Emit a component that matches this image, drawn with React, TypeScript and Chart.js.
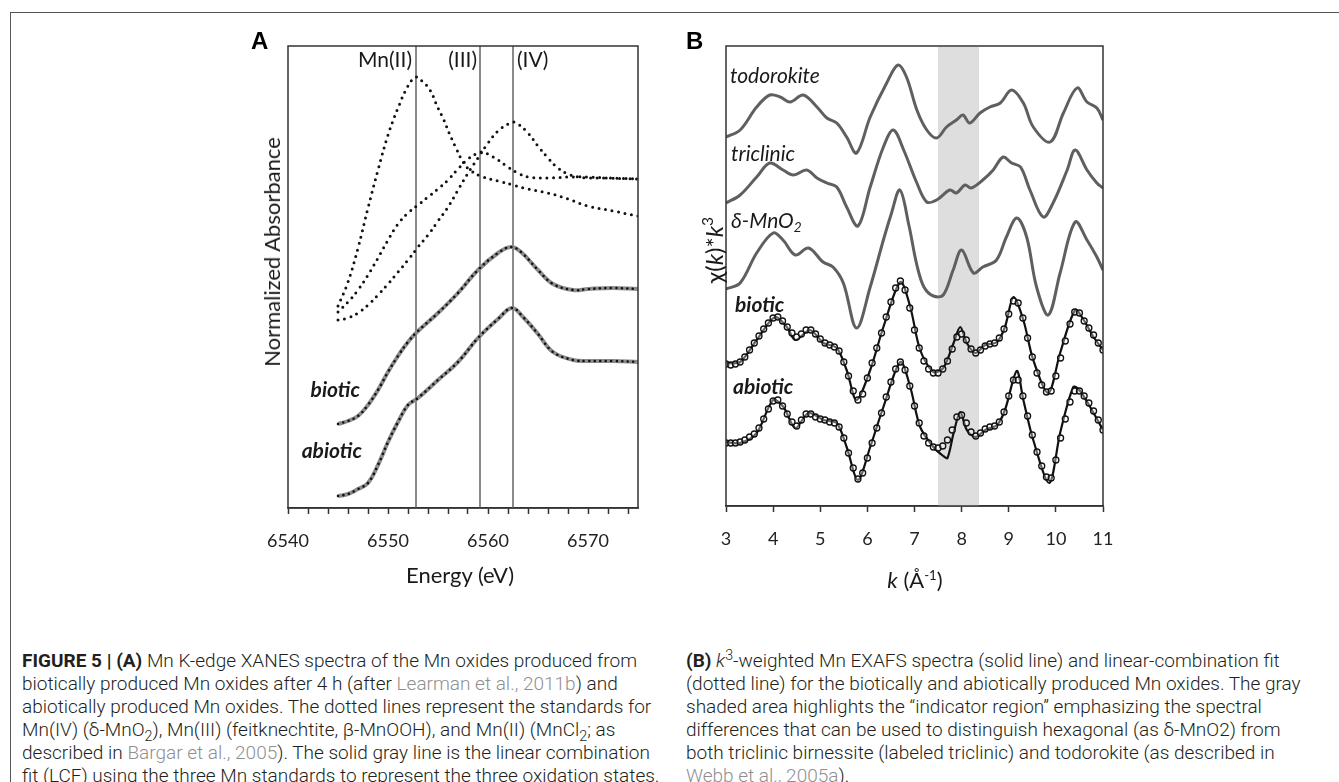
import React, { useEffect, useRef } from 'react';
import { Chart, registerables } from 'chart.js';
Chart.register(...registerables);

// ---------- Panel A : Mn K-edge XANES ----------
const energyTicks = [6540, 6542, 6544, 6546, 6548, 6550, 6552, 6554, 6556, 6558, 6560, 6562, 6564, 6566, 6568, 6570, 6572, 6574];
const energyLabels = [6540, 6550, 6560, 6570];
const oxidationLines = [6552.8, 6559.2, 6562.5];

const E_MN2 = [6545, 6546, 6547, 6548, 6549, 6550, 6551, 6552, 6552.8, 6553.5, 6554.2, 6555, 6555.5, 6556.2, 6556.9, 6557.5, 6558.2, 6559.5, 6561, 6562.5, 6564, 6566, 6568, 6570, 6572.5, 6575];
const A_MN2 = [2.02, 2.26, 2.6, 3.0, 3.38, 3.73, 4.0, 4.22, 4.31, 4.26, 4.18, 4.0, 3.9, 3.73, 3.58, 3.46, 3.38, 3.31, 3.27, 3.23, 3.19, 3.15, 3.09, 3.02, 2.97, 2.92];

const E_MN3 = [6545, 6546, 6547, 6548, 6549, 6550, 6551, 6552, 6553, 6554, 6555, 6556, 6557, 6558, 6559, 6559.5, 6560, 6561, 6562, 6563, 6564, 6566, 6568, 6570, 6572, 6575];
const A_MN3 = [1.96, 2.06, 2.18, 2.33, 2.5, 2.68, 2.84, 2.95, 3.03, 3.11, 3.19, 3.28, 3.39, 3.49, 3.55, 3.56, 3.54, 3.48, 3.41, 3.35, 3.31, 3.3, 3.31, 3.31, 3.3, 3.29];

const E_MN4 = [6545, 6546, 6547, 6548, 6549, 6550, 6551, 6552, 6553, 6554, 6555, 6556, 6557, 6558, 6559, 6560, 6561, 6562, 6562.5, 6563, 6564, 6565, 6566, 6567, 6568, 6569, 6570, 6572, 6575];
const A_MN4 = [1.88, 1.9, 1.95, 2.03, 2.13, 2.24, 2.36, 2.48, 2.61, 2.73, 2.87, 3.01, 3.18, 3.35, 3.5, 3.65, 3.77, 3.84, 3.86, 3.84, 3.75, 3.62, 3.5, 3.4, 3.34, 3.31, 3.3, 3.3, 3.29];

const E_BIO = [6545, 6546, 6547, 6548, 6549, 6550, 6551, 6552, 6553, 6555, 6557, 6559, 6561, 6562.3, 6563.3, 6565, 6566.5, 6568.5, 6570, 6572.5, 6575];
const A_BIO = [0.84, 0.87, 0.92, 1.03, 1.18, 1.36, 1.52, 1.66, 1.77, 1.95, 2.15, 2.38, 2.55, 2.61, 2.56, 2.38, 2.24, 2.18, 2.19, 2.2, 2.19];

const E_ABIO = [6545, 6546, 6547, 6548, 6549, 6550, 6551, 6552, 6553, 6555, 6557, 6559, 6561, 6562.4, 6563.5, 6565, 6566.5, 6568.5, 6570, 6572.5, 6575];
const A_ABIO = [0.12, 0.14, 0.19, 0.25, 0.43, 0.66, 0.86, 1.03, 1.1, 1.28, 1.46, 1.7, 1.89, 2.0, 1.91, 1.74, 1.56, 1.48, 1.47, 1.47, 1.46];

// ---------- Panel B : k3-weighted EXAFS ----------
const kTicks = [3, 4, 5, 6, 7, 8, 9, 10, 11];
const indicatorRegion = [7.5, 8.37];

const K_TODO = [3.0, 3.3, 3.65, 3.93, 4.15, 4.36, 4.64, 4.93, 5.14, 5.35, 5.56, 5.77, 6.06, 6.41, 6.65, 6.83, 7.05, 7.26, 7.47, 7.68, 7.89, 8.03, 8.17, 8.39, 8.6, 8.82, 9.06, 9.31, 9.52, 9.88, 10.16, 10.45, 10.66, 10.87, 11.0];
const V_TODO = [36.9, 37.6, 39.9, 41.1, 40.9, 40.4, 41.1, 39.9, 38.8, 38.3, 36.9, 35.3, 38.9, 42.3, 44.1, 42.9, 39.6, 37.6, 36.8, 37.9, 38.6, 39.1, 38.3, 39.3, 39.9, 40.3, 41.6, 40.3, 37.9, 36.4, 39.3, 41.8, 40.4, 39.8, 38.6];

const K_TRI = [3.0, 3.3, 3.65, 3.93, 4.21, 4.43, 4.71, 4.93, 5.14, 5.35, 5.56, 5.8, 6.06, 6.34, 6.55, 6.77, 7.05, 7.26, 7.47, 7.75, 7.89, 8.07, 8.2, 8.45, 8.67, 8.88, 9.06, 9.25, 9.45, 9.73, 9.94, 10.24, 10.41, 10.66, 10.87, 11.0];
const V_TRI = [30.3, 31.1, 32.9, 34.3, 33.6, 33.1, 33.6, 32.8, 32.3, 31.9, 29.9, 28.0, 31.9, 35.9, 37.6, 35.6, 32.3, 30.4, 30.6, 31.6, 31.3, 32.1, 31.8, 32.6, 33.6, 34.9, 34.3, 33.9, 31.6, 28.9, 30.3, 33.6, 35.6, 33.6, 32.3, 31.8];

const K_DMN = [3.0, 3.3, 3.65, 4.0, 4.21, 4.47, 4.75, 5.06, 5.27, 5.49, 5.77, 6.06, 6.34, 6.5, 6.69, 6.88, 7.05, 7.2, 7.4, 7.61, 7.82, 8.0, 8.25, 8.45, 8.74, 8.95, 9.17, 9.38, 9.59, 9.84, 10.09, 10.41, 10.66, 10.87, 11.0];
const V_DMN = [21.7, 22.3, 25.3, 27.3, 26.6, 25.1, 25.8, 24.4, 23.9, 22.3, 17.8, 21.9, 26.6, 29.1, 31.6, 28.1, 24.1, 21.9, 21.0, 21.1, 23.6, 25.6, 23.3, 23.9, 24.6, 26.9, 28.8, 26.9, 21.9, 19.1, 23.3, 28.4, 26.6, 24.9, 23.6];

const K_BIO = [3.0, 3.3, 3.65, 4.04, 4.29, 4.47, 4.78, 5.07, 5.35, 5.56, 5.77, 6.06, 6.34, 6.7, 6.91, 7.12, 7.4, 7.61, 7.83, 7.97, 8.11, 8.29, 8.5, 8.75, 8.92, 9.1, 9.31, 9.52, 9.84, 10.09, 10.41, 10.59, 10.8, 11.0];
const V_BIO = [14.3, 14.4, 16.6, 18.9, 17.9, 16.6, 17.6, 16.3, 15.8, 13.6, 10.6, 13.6, 17.9, 22.4, 19.9, 15.6, 13.4, 13.8, 16.3, 17.9, 16.3, 15.3, 16.1, 16.4, 17.9, 20.9, 18.6, 14.6, 11.3, 15.3, 19.6, 18.6, 16.9, 15.6];

const K_ABIO = [3.0, 3.3, 3.65, 4.0, 4.22, 4.47, 4.75, 5.07, 5.35, 5.56, 5.8, 6.06, 6.34, 6.7, 6.91, 7.12, 7.4, 7.61, 7.7, 7.83, 7.97, 8.11, 8.29, 8.5, 8.75, 8.92, 9.17, 9.31, 9.52, 9.86, 10.09, 10.37, 10.5, 10.8, 11.0];
const V_ABIO = [6.4, 6.3, 7.3, 10.6, 9.9, 7.8, 9.3, 8.6, 8.3, 5.9, 2.6, 5.9, 9.9, 14.4, 11.9, 7.9, 5.9, 5.0, 4.8, 7.3, 9.4, 7.6, 6.9, 7.6, 8.1, 9.6, 13.5, 10.6, 6.6, 2.3, 7.3, 11.9, 11.6, 9.3, 7.6];

const K_FIT = [
  3.0, 3.1, 3.2, 3.3, 3.4, 3.5, 3.6, 3.7, 3.8, 3.9,
  4.0, 4.1, 4.2, 4.3, 4.4, 4.5, 4.6, 4.7, 4.8, 4.9,
  5.0, 5.1, 5.2, 5.3, 5.4, 5.5, 5.6, 5.7, 5.8, 5.9,
  6.0, 6.1, 6.2, 6.3, 6.4, 6.5, 6.6, 6.7, 6.8, 6.9,
  7.0, 7.1, 7.2, 7.3, 7.4, 7.5, 7.6, 7.7, 7.8, 7.9,
  8.0, 8.1, 8.2, 8.3, 8.4, 8.5, 8.6, 8.7, 8.8, 8.9,
  9.0, 9.1, 9.2, 9.3, 9.4, 9.5, 9.6, 9.7, 9.8, 9.9,
  10.0, 10.1, 10.2, 10.3, 10.4, 10.5, 10.6, 10.7, 10.8, 10.9,
  11.0,
];
const FIT_BIO = [
  14.2, 14.1, 14.2, 14.4, 14.9, 15.6, 16.3, 17.0, 17.7, 18.3,
  18.8, 18.9, 18.5, 17.9, 17.3, 16.9, 17.2, 17.6, 17.6, 17.2,
  16.7, 16.3, 16.1, 15.9, 15.5, 14.4, 13.0, 11.5, 10.6, 11.2,
  12.8, 14.3, 15.8, 17.3, 18.9, 20.4, 21.8, 22.5, 21.6, 19.8,
  17.6, 15.8, 14.5, 13.7, 13.3, 13.3, 13.7, 14.5, 15.7, 16.9,
  17.2, 16.6, 15.7, 15.3, 15.6, 16.0, 16.2, 16.3, 16.8, 17.7,
  19.2, 20.5, 20.3, 18.8, 16.8, 14.9, 13.3, 12.1, 11.4, 11.5,
  13.0, 14.8, 16.5, 18.2, 19.4, 19.3, 18.5, 17.8, 17.1, 16.3,
  15.6,
];
const FIT_ABIO = [
  6.3, 6.3, 6.3, 6.4, 6.6, 6.9, 7.2, 7.8, 8.7, 9.7,
  10.5, 10.6, 10.0, 9.2, 8.4, 8.0, 8.6, 9.2, 9.2, 8.9,
  8.7, 8.6, 8.4, 8.3, 7.9, 6.8, 5.3, 3.8, 2.7, 3.3,
  4.8, 6.3, 7.8, 9.3, 10.9, 12.4, 13.7, 14.4, 13.6, 12.0,
  10.0, 8.3, 7.0, 6.3, 5.9, 5.8, 6.0, 6.6, 7.6, 8.9,
  9.1, 8.3, 7.4, 7.0, 7.3, 7.7, 7.9, 8.0, 8.4, 9.4,
  11.0, 12.6, 12.6, 11.0, 9.0, 7.1, 5.4, 4.0, 2.9, 2.8,
  4.6, 6.8, 8.7, 10.4, 11.5, 11.5, 11.0, 10.3, 9.5, 8.6,
  7.6,
];

const zip = (xs: number[], ys: number[]) => xs.map((x, i) => ({ x, y: ys[i] }));

const FONT = "Lato, 'Open Sans', sans-serif";
const CAP_FONT = "Roboto, 'Liberation Sans', sans-serif";
const AXIS = '#333';

const boxPlugin = {
  id: 'box',
  afterDraw(chart: any) {
    const { ctx, chartArea: a } = chart;
    ctx.save();
    ctx.strokeStyle = AXIS;
    ctx.lineWidth = 1.5;
    ctx.strokeRect(a.left, a.top, a.right - a.left, a.bottom - a.top);
    ctx.restore();
  },
};

const bandPlugin = {
  id: 'band',
  beforeDatasetsDraw(chart: any) {
    const { ctx, chartArea: a, scales } = chart;
    const x0 = scales.x.getPixelForValue(indicatorRegion[0]);
    const x1 = scales.x.getPixelForValue(indicatorRegion[1]);
    ctx.save();
    ctx.fillStyle = '#dedede';
    ctx.fillRect(x0, a.top + 1, x1 - x0, a.bottom - a.top - 1);
    ctx.restore();
  },
};

function xAxis(min: number, max: number, ticks: number[], labels: number[] | null, height: number) {
  return {
    type: 'linear',
    min,
    max,
    afterBuildTicks: (s: any) => {
      s.ticks = ticks.map((v) => ({ value: v }));
    },
    afterFit: (s: any) => {
      s.height = height;
    },
    grid: { drawOnChartArea: false, drawTicks: true, tickLength: 6, color: AXIS, tickColor: AXIS, tickWidth: 1.5 },
    border: { display: true, color: AXIS, width: 1.5 },
    ticks: {
      autoSkip: false,
      maxRotation: 0,
      padding: 16,
      color: '#222',
      font: { family: FONT, size: 18 },
      callback: (v: any) => (labels === null || labels.includes(v) ? String(v) : ''),
    },
  };
}

// canvas geometry (px on the page)
const A_LEFT = 220, A_TOP = 20, A_W = 460, A_H = 590;
const B_LEFT = 680, B_TOP = 20, B_W = 470, B_H = 590;

function PanelA() {
  const ref = useRef<HTMLCanvasElement>(null);
  useEffect(() => {
    const dotted = (data: any) => ({
      data,
      borderColor: '#111',
      borderWidth: 3,
      borderDash: [0, 6.6],
      borderCapStyle: 'round',
      pointRadius: 0,
      tension: 0.4,
      fill: false,
    });
    const vlines = oxidationLines.map((e) => ({
      data: [{ x: e, y: 0 }, { x: e, y: 4.62 }],
      borderColor: '#8a8a8a',
      borderWidth: 2,
      pointRadius: 0,
      fill: false,
    }));
    // Chart.js paints the first dataset last (on top)
    const chart = new Chart(ref.current!, {
      type: 'line',
      data: {
        datasets: [
          { ...dotted(zip(E_BIO, A_BIO)), borderWidth: 2.6, borderDash: [0, 5.5] },
          { ...dotted(zip(E_ABIO, A_ABIO)), borderWidth: 2.6, borderDash: [0, 5.5] },
          { data: zip(E_BIO, A_BIO), borderColor: '#8c8c8c', borderWidth: 4, pointRadius: 0, tension: 0.4, fill: false },
          { data: zip(E_ABIO, A_ABIO), borderColor: '#8c8c8c', borderWidth: 4, pointRadius: 0, tension: 0.4, fill: false },
          dotted(zip(E_MN2, A_MN2)),
          dotted(zip(E_MN3, A_MN3)),
          dotted(zip(E_MN4, A_MN4)),
          ...vlines,
        ] as any,
      },
      options: {
        animation: false,
        responsive: false,
        events: [],
        layout: { padding: { left: 288 - A_LEFT, top: 46 - A_TOP, right: A_LEFT + A_W - 638, bottom: 0 } },
        plugins: { legend: { display: false }, tooltip: { enabled: false } },
        scales: {
          x: xAxis(6540, 6575, energyTicks, energyLabels, A_TOP + A_H - 508) as any,
          y: { type: 'linear', min: 0, max: 4.62, display: false },
        },
      },
      plugins: [boxPlugin],
    });
    return () => chart.destroy();
  }, []);
  return <canvas ref={ref} width={A_W} height={A_H} style={{ position: 'absolute', left: A_LEFT, top: A_TOP, width: A_W, height: A_H }} />;
}

function PanelB() {
  const ref = useRef<HTMLCanvasElement>(null);
  useEffect(() => {
    const gray = (data: any) => ({ data, borderColor: '#5f5f5f', borderWidth: 3, pointRadius: 0, tension: 0.35, fill: false });
    const black = (data: any) => ({ data, borderColor: '#111', borderWidth: 2.2, pointRadius: 0, tension: 0.3, fill: false });
    const circles = (data: any) => ({
      data,
      showLine: false,
      pointRadius: 3,
      pointBorderWidth: 1.3,
      pointBorderColor: '#111',
      pointBackgroundColor: 'rgba(255,255,255,0.35)',
      fill: false,
    });
    // first dataset is painted on top
    const chart = new Chart(ref.current!, {
      type: 'line',
      data: {
        datasets: [
          circles(zip(K_FIT, FIT_BIO)),
          circles(zip(K_FIT, FIT_ABIO)),
          black(zip(K_BIO, V_BIO)),
          black(zip(K_ABIO, V_ABIO)),
          gray(zip(K_TODO, V_TODO)),
          gray(zip(K_TRI, V_TRI)),
          gray(zip(K_DMN, V_DMN)),
        ] as any,
      },
      options: {
        animation: false,
        responsive: false,
        events: [],
        layout: { padding: { left: 726 - B_LEFT, top: 46 - B_TOP, right: B_LEFT + B_W - 1103, bottom: 0 } },
        plugins: { legend: { display: false }, tooltip: { enabled: false } },
        scales: {
          x: xAxis(3, 11, kTicks, null, B_TOP + B_H - 506) as any,
          y: { type: 'linear', min: 0, max: 46, display: false },
        },
      },
      plugins: [bandPlugin, boxPlugin],
    });
    return () => chart.destroy();
  }, []);
  return <canvas ref={ref} width={B_W} height={B_H} style={{ position: 'absolute', left: B_LEFT, top: B_TOP, width: B_W, height: B_H }} />;
}

function T({ x, y, align = 'left', size = 21, style = {}, children }: any) {
  const tx = align === 'left' ? '0' : align === 'right' ? '-100%' : '-50%';
  return (
    <div
      style={{
        position: 'absolute',
        left: x,
        top: y,
        transform: `translate(${tx}, -50%)`,
        whiteSpace: 'nowrap',
        lineHeight: 1,
        fontFamily: FONT,
        fontSize: size,
        color: '#1a1a1a',
        ...style,
      }}
    >
      {children}
    </div>
  );
}

function VT({ x, y, size = 22, children }: any) {
  return (
    <div
      style={{
        position: 'absolute',
        left: x,
        top: y,
        transform: 'translate(-50%, -50%) rotate(-90deg)',
        whiteSpace: 'nowrap',
        lineHeight: 1,
        fontFamily: FONT,
        fontSize: size,
        color: '#1a1a1a',
      }}
    >
      {children}
    </div>
  );
}

const linkStyle = { color: '#8f8f8f' };
const subStyle = { fontSize: '0.75em', lineHeight: 0 };

function Caption({ left, lines }: { left: number; lines: React.ReactNode[] }) {
  return (
    <div
      style={{
        position: 'absolute',
        left,
        top: 649,
        fontFamily: CAP_FONT,
        fontSize: 19,
        lineHeight: '23px',
        color: '#231f20',
        whiteSpace: 'nowrap',
        fontWeight: 300,
      }}
    >
      {lines.map((l, i) => (
        <div key={i}>{l}</div>
      ))}
    </div>
  );
}

export default function App() {
  const it = { fontStyle: 'italic' };
  const bi = { fontStyle: 'italic', fontWeight: 700 };
  return (
    <div style={{ position: 'absolute', left: 0, top: 0, width: 1339, height: 782, overflow: 'hidden', background: '#fff' }}>
      <div style={{ position: 'absolute', left: 10, top: 11.5, width: 1329, height: 1.5, background: '#555' }} />
      <div style={{ position: 'absolute', left: 9.5, top: 12, width: 1.5, height: 770, background: '#555' }} />
      <PanelA />
      <PanelB />

      <T x={251} y={41} size={24} style={{ fontFamily: "'Liberation Sans', Arial, sans-serif", fontWeight: 700, color: '#000' }}>A</T>
      <T x={686} y={41} size={24} style={{ fontFamily: "'Liberation Sans', Arial, sans-serif", fontWeight: 700, color: '#000' }}>B</T>

      <T x={412} y={58} align="right">Mn(II)</T>
      <T x={477} y={58} align="right">(III)</T>
      <T x={517} y={58}>(IV)</T>
      <T x={360} y={388} align="right" style={bi}>biotic</T>
      <T x={362} y={449} align="right" style={bi}>abiotic</T>
      <VT x={272} y={252}>Normalized Absorbance</VT>
      <T x={460} y={575} align="center" size={22}>Energy (eV)</T>

      <T x={730} y={74} style={it}>todorokite</T>
      <T x={731} y={152} style={it}>triclinic</T>
      <T x={731} y={222} style={it}>
        δ-MnO<sub style={{ fontSize: '0.65em', verticalAlign: '-0.25em' }}>2</sub>
      </T>
      <T x={735} y={303} style={bi}>biotic</T>
      <T x={733} y={385} style={bi}>abiotic</T>
      <VT x={713} y={250} size={24}>
        χ(<i>k</i>)*<i>k</i>
        <sup style={{ fontSize: '0.65em', verticalAlign: '0.6em' }}>3</sup>
      </VT>
      <T x={915} y={580} align="center" size={22}>
        <i>k</i> (Å<sup style={{ fontSize: '0.6em', verticalAlign: '0.6em' }}>-1</sup>)
      </T>

      <Caption
        left={22}
        lines={[
          <span><b style={{ fontWeight: 700 }}>FIGURE 5 | (A)</b> Mn K-edge XANES spectra of the Mn oxides produced from</span>,
          <span>biotically produced Mn oxides after 4 h (after <span style={linkStyle}>Learman et al., 2011b</span>) and</span>,
          <span>abiotically produced Mn oxides. The dotted lines represent the standards for</span>,
          <span>Mn(IV) (δ-MnO<sub style={subStyle}>2</sub>), Mn(III) (feitknechtite, β-MnOOH), and Mn(II) (MnCl<sub style={subStyle}>2</sub>; as</span>,
          <span>described in <span style={linkStyle}>Bargar et al., 2005</span>). The solid gray line is the linear combination</span>,
          <span>fit (LCF) using the three Mn standards to represent the three oxidation states.</span>,
        ]}
      />
      <Caption
        left={686}
        lines={[
          <span><b style={{ fontWeight: 700 }}>(B)</b> <i>k</i><sup style={subStyle}>3</sup>-weighted Mn EXAFS spectra (solid line) and linear-combination fit</span>,
          <span>(dotted line) for the biotically and abiotically produced Mn oxides. The gray</span>,
          <span>shaded area highlights the “indicator region” emphasizing the spectral</span>,
          <span>differences that can be used to distinguish hexagonal (as δ-MnO2) from</span>,
          <span>both triclinic birnessite (labeled triclinic) and todorokite (as described in</span>,
          <span><span style={linkStyle}>Webb et al., 2005a</span>).</span>,
        ]}
      />
    </div>
  );
}
